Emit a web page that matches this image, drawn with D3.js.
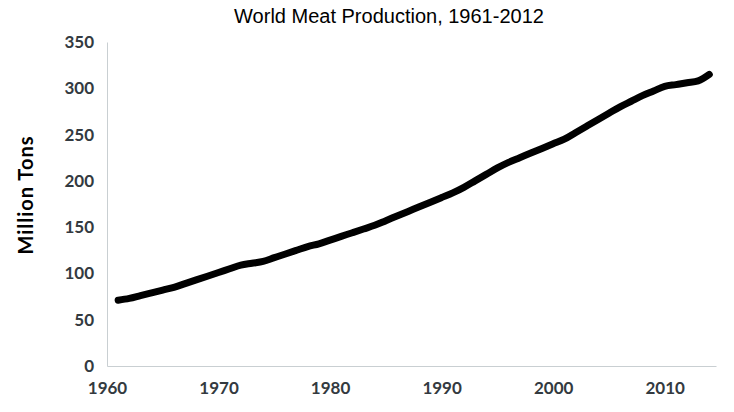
<!DOCTYPE html>
<html>
<head>
<meta charset="utf-8">
<script src="https://cdn.jsdelivr.net/npm/d3@7"></script>
<style>
  body { margin: 0; background: #fff; }
</style>
</head>
<body>
<div id="chart"></div>
<script>
// years and production values (million tons)
var years = [1961,1962,1963,1964,1965,1966,1967,1968,1969,1970,
             1971,1972,1973,1974,1975,1976,1977,1978,1979,1980,
             1981,1982,1983,1984,1985,1986,1987,1988,1989,1990,
             1991,1992,1993,1994,1995,1996,1997,1998,1999,2000,
             2001,2002,2003,2004,2005,2006,2007,2008,2009,2010,
             2011,2012,2013,2014];
var production = [71,73,76,79,82,85,89,93,97,101,
                  105,109,111,113,117,121,125,129,132,136,
                  140,144,148,152,157,162,167,172,177,182,
                  187,193,200,207,214,220,225,230,235,240,
                  245,252,259,266,273,280,286,292,297,302,
                  304,306,308,315];
var xTicks = [1960,1970,1980,1990,2000,2010];
var yTicks = [0,50,100,150,200,250,300,350];

var width = 734, height = 412;

var svg = d3.select("#chart").append("svg")
    .attr("width", width)
    .attr("height", height);

var x = d3.scaleLinear().domain([1960, 2014.6]).range([107, 716]);
var y = d3.scaleLinear().domain([0, 350]).range([366, 42]);

// title
svg.append("text")
    .attr("x", 389)
    .attr("y", 23)
    .attr("text-anchor", "middle")
    .attr("font-family", "Liberation Sans, Arial, sans-serif")
    .attr("font-size", 20)
    .attr("fill", "#000")
    .text("World Meat Production, 1961-2012");

// y axis
var yAxis = svg.append("g")
    .attr("transform", "translate(107,0)")
    .call(d3.axisLeft(y).tickValues(yTicks).tickSize(0).tickPadding(13));
yAxis.select(".domain").attr("stroke", "#c9cfd2");
yAxis.selectAll("text")
    .attr("font-family", "Lato, sans-serif")
    .attr("font-weight", "bold")
    .attr("font-size", 17)
    .attr("fill", "#333a40");

// x axis
var xAxis = svg.append("g")
    .attr("transform", "translate(0,366)")
    .call(d3.axisBottom(x).tickValues(xTicks).tickFormat(d3.format("d")).tickSize(0).tickPadding(16));
xAxis.select(".domain").attr("stroke", "#c9cfd2");
xAxis.selectAll("text")
    .attr("font-family", "Lato, sans-serif")
    .attr("font-weight", "bold")
    .attr("font-size", 17)
    .attr("fill", "#333a40");

// y axis title
svg.append("text")
    .attr("transform", "translate(33,195) rotate(-90)")
    .attr("text-anchor", "middle")
    .attr("font-family", "Lato, sans-serif")
    .attr("font-weight", "bold")
    .attr("font-size", 20)
    .attr("letter-spacing", 1)
    .attr("fill", "#000")
    .text("Million Tons");

var data = years.map(function(d, i) { return {year: d, value: production[i]}; });

var line = d3.line()
    .x(function(d) { return x(d.year); })
    .y(function(d) { return y(d.value); })
    .curve(d3.curveMonotoneX);

svg.append("path")
    .datum(data)
    .attr("d", line)
    .attr("fill", "none")
    .attr("stroke", "#000")
    .attr("stroke-width", 7)
    .attr("stroke-linecap", "round")
    .attr("stroke-linejoin", "round");
</script>
</body>
</html>
